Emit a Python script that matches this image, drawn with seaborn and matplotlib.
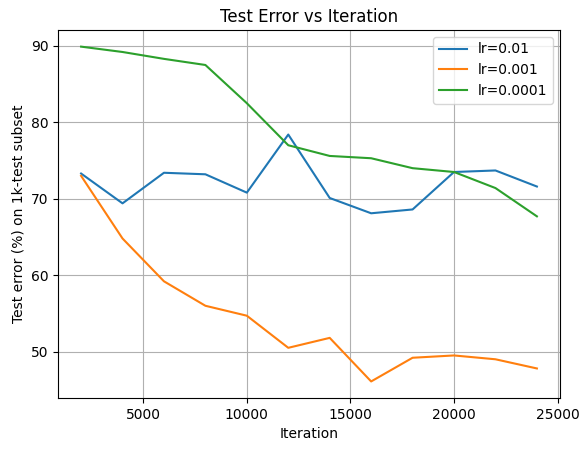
import matplotlib
matplotlib.use("Agg")
import matplotlib.pyplot as plt
import seaborn as sns
import pandas as pd

iterations = [2000, 4000, 6000, 8000, 10000, 12000, 14000, 16000, 18000, 20000, 22000, 24000]
err_lr_01 = [73.3, 69.4, 73.4, 73.2, 70.8, 78.4, 70.1, 68.1, 68.6, 73.5, 73.7, 71.6]
err_lr_001 = [73.0, 64.8, 59.2, 56.0, 54.7, 50.5, 51.8, 46.1, 49.2, 49.5, 49.0, 47.8]
err_lr_0001 = [89.9, 89.2, 88.3, 87.5, 82.5, 77.0, 75.6, 75.3, 74.0, 73.5, 71.4, 67.7]
labels = ["lr=0.01", "lr=0.001", "lr=0.0001"]

df = pd.concat([
    pd.DataFrame({"Iteration": iterations, "err": vals, "lr": lab})
    for lab, vals in zip(labels, [err_lr_01, err_lr_001, err_lr_0001])
])

fig, ax = plt.subplots(figsize=(5.83, 4.53), dpi=100)
fig.subplots_adjust(left=0.1, right=0.96, top=0.934, bottom=0.121)
sns.lineplot(data=df, x="Iteration", y="err", hue="lr", palette="tab10", ax=ax)
ax.set_title("Test Error vs Iteration")
ax.set_xlabel("Iteration")
ax.set_ylabel("Test error (%) on 1k-test subset")
ax.grid(True)
ax.legend(title=None, loc="upper right")
fig.savefig("out.png", dpi=100)
